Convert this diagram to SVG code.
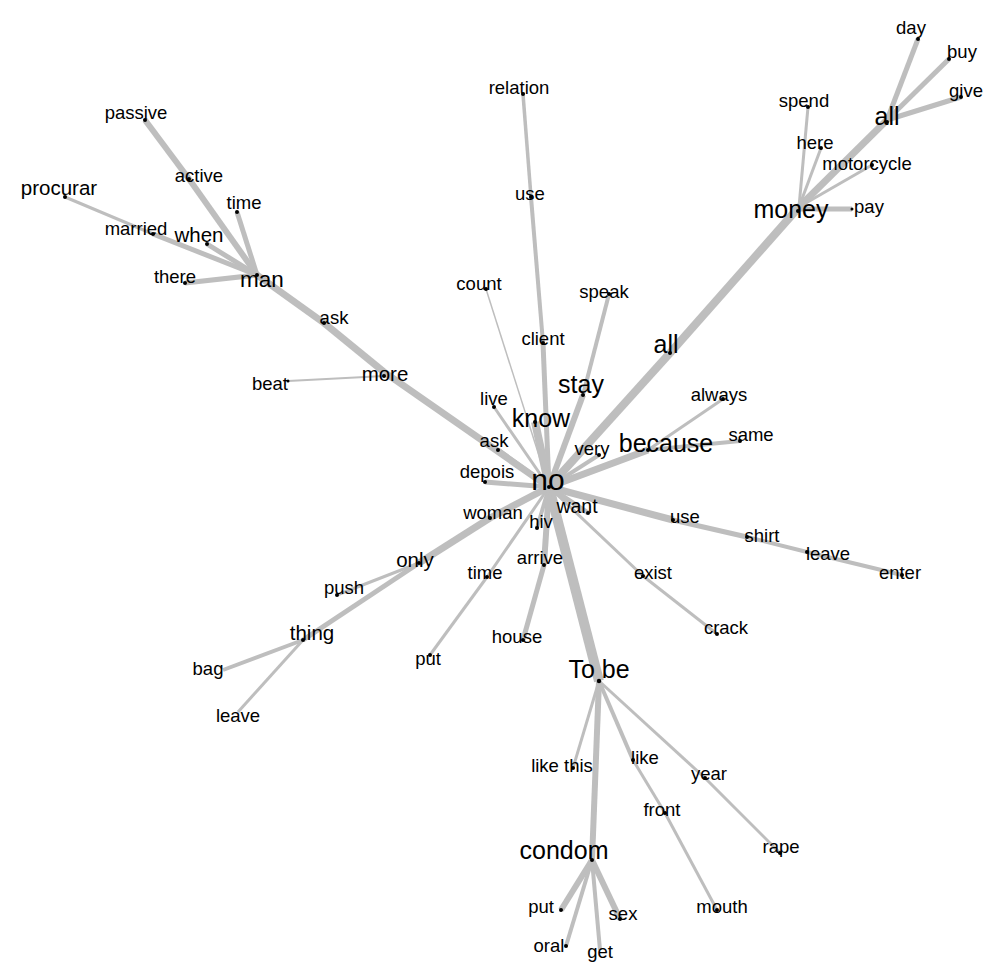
<svg xmlns="http://www.w3.org/2000/svg" width="1000" height="980" viewBox="0 0 1000 980">
<style>
text{font-family:"Liberation Sans",Arial,sans-serif;fill:#000;text-anchor:middle}
.s{font-size:18.5px}.m{font-size:20.5px}.mm{font-size:22.5px}.l{font-size:25px}.xl{font-size:30px}
#edges line{stroke:#bebebe;stroke-linecap:butt}
circle{fill:#000}
</style>
<rect width="1000" height="980" fill="#fff"/>
<g id="edges">
<line x1="145" y1="120" x2="189" y2="179" stroke-width="6"/>
<line x1="189" y1="179" x2="257" y2="275" stroke-width="6"/>
<line x1="237" y1="212" x2="257" y2="275" stroke-width="5"/>
<line x1="207" y1="244" x2="257" y2="275" stroke-width="5"/>
<line x1="65" y1="197" x2="153" y2="234" stroke-width="3"/>
<line x1="153" y1="234" x2="257" y2="275" stroke-width="5"/>
<line x1="185" y1="283" x2="257" y2="275" stroke-width="5"/>
<line x1="257" y1="275" x2="324" y2="323" stroke-width="7"/>
<line x1="324" y1="323" x2="384" y2="372" stroke-width="7"/>
<line x1="384" y1="372" x2="549" y2="487" stroke-width="7"/>
<line x1="288" y1="381" x2="384" y2="376" stroke-width="2"/>
<line x1="549" y1="487" x2="670" y2="353" stroke-width="8"/>
<line x1="670" y1="353" x2="799" y2="207" stroke-width="8"/>
<line x1="799" y1="207" x2="887" y2="120" stroke-width="7"/>
<line x1="887" y1="120" x2="918" y2="39" stroke-width="5"/>
<line x1="887" y1="120" x2="949" y2="59" stroke-width="5"/>
<line x1="887" y1="120" x2="961" y2="97" stroke-width="5"/>
<line x1="799" y1="207" x2="808" y2="107" stroke-width="3"/>
<line x1="799" y1="207" x2="821" y2="148" stroke-width="3"/>
<line x1="799" y1="207" x2="872" y2="165" stroke-width="3"/>
<line x1="799" y1="209" x2="852" y2="209" stroke-width="5"/>
<line x1="523" y1="94" x2="531" y2="197" stroke-width="3.5"/>
<line x1="531" y1="197" x2="543" y2="343" stroke-width="4"/>
<line x1="543" y1="343" x2="549" y2="487" stroke-width="5"/>
<line x1="486" y1="289" x2="549" y2="487" stroke-width="1.5"/>
<line x1="609" y1="294" x2="583" y2="395" stroke-width="4"/>
<line x1="583" y1="395" x2="549" y2="487" stroke-width="6"/>
<line x1="494" y1="407" x2="549" y2="487" stroke-width="3"/>
<line x1="535" y1="422" x2="549" y2="487" stroke-width="8"/>
<line x1="498" y1="450" x2="549" y2="487" stroke-width="5"/>
<line x1="485" y1="482" x2="549" y2="487" stroke-width="5"/>
<line x1="599" y1="455" x2="549" y2="487" stroke-width="4"/>
<line x1="648" y1="450" x2="549" y2="487" stroke-width="7"/>
<line x1="648" y1="450" x2="723" y2="399" stroke-width="3"/>
<line x1="648" y1="450" x2="740" y2="441" stroke-width="4"/>
<line x1="549" y1="487" x2="673" y2="520" stroke-width="7"/>
<line x1="673" y1="520" x2="747" y2="537" stroke-width="5"/>
<line x1="747" y1="537" x2="807" y2="552" stroke-width="4"/>
<line x1="807" y1="552" x2="902" y2="575" stroke-width="4"/>
<line x1="588" y1="513" x2="549" y2="487" stroke-width="5"/>
<line x1="643" y1="576" x2="549" y2="487" stroke-width="3"/>
<line x1="643" y1="576" x2="717" y2="634" stroke-width="3"/>
<line x1="549" y1="487" x2="599" y2="681" stroke-width="10"/>
<line x1="544" y1="565" x2="549" y2="487" stroke-width="6"/>
<line x1="523" y1="640" x2="544" y2="565" stroke-width="5"/>
<line x1="537" y1="528" x2="549" y2="487" stroke-width="4"/>
<line x1="487" y1="577" x2="549" y2="487" stroke-width="3"/>
<line x1="430" y1="655" x2="487" y2="577" stroke-width="3"/>
<line x1="490" y1="518" x2="549" y2="487" stroke-width="7"/>
<line x1="490" y1="518" x2="419" y2="563" stroke-width="7"/>
<line x1="419" y1="563" x2="303" y2="640" stroke-width="5"/>
<line x1="419" y1="563" x2="337" y2="595" stroke-width="3"/>
<line x1="303" y1="640" x2="223" y2="670" stroke-width="4"/>
<line x1="303" y1="640" x2="238" y2="712" stroke-width="3"/>
<line x1="599" y1="681" x2="592" y2="860" stroke-width="6"/>
<line x1="599" y1="681" x2="573" y2="768" stroke-width="3"/>
<line x1="599" y1="681" x2="633" y2="760" stroke-width="4"/>
<line x1="633" y1="760" x2="665" y2="813" stroke-width="3"/>
<line x1="665" y1="813" x2="717" y2="910" stroke-width="3"/>
<line x1="599" y1="681" x2="705" y2="778" stroke-width="3"/>
<line x1="705" y1="778" x2="780" y2="853" stroke-width="3"/>
<line x1="592" y1="860" x2="561" y2="910" stroke-width="6"/>
<line x1="592" y1="860" x2="566" y2="946" stroke-width="4"/>
<line x1="592" y1="860" x2="600" y2="950" stroke-width="4"/>
<line x1="592" y1="860" x2="620" y2="919" stroke-width="6"/>
</g>
<g id="n-passive"><circle cx="145" cy="120" r="2"/><text class="s" x="136" y="119">passive</text></g>
<g id="n-active"><circle cx="189" cy="179" r="2"/><text class="s" x="199" y="182">active</text></g>
<g id="n-procurar"><circle cx="65" cy="197" r="2"/><text class="m" x="59" y="195">procurar</text></g>
<g id="n-time1"><circle cx="237" cy="212" r="2"/><text class="s" x="244" y="209">time</text></g>
<g id="n-married"><circle cx="153" cy="234" r="2"/><text class="s" x="136" y="235">married</text></g>
<g id="n-when"><circle cx="207" cy="244" r="2"/><text class="m" x="199" y="242">when</text></g>
<g id="n-there"><circle cx="185" cy="283" r="2"/><text class="s" x="175" y="283">there</text></g>
<g id="n-man"><circle cx="257" cy="275" r="2"/><text class="mm" x="262" y="287">man</text></g>
<g id="n-ask1"><circle cx="324" cy="323" r="2"/><text class="s" x="334" y="324">ask</text></g>
<g id="n-more"><circle cx="384" cy="376" r="2"/><text class="m" x="385" y="381">more</text></g>
<g id="n-beat"><circle cx="288" cy="381" r="1.5"/><text class="s" x="270" y="390">beat</text></g>
<g id="n-day"><circle cx="918" cy="39" r="2"/><text class="s" x="911" y="34">day</text></g>
<g id="n-buy"><circle cx="949" cy="59" r="2"/><text class="s" x="962" y="58">buy</text></g>
<g id="n-give"><circle cx="961" cy="97" r="2"/><text class="s" x="966" y="97">give</text></g>
<g id="n-spend"><circle cx="808" cy="107" r="2"/><text class="s" x="804" y="107">spend</text></g>
<g id="n-all-top"><circle cx="887" cy="122" r="2"/><text class="l" x="887" y="125">all</text></g>
<g id="n-here"><circle cx="821" cy="148" r="2"/><text class="s" x="815" y="149">here</text></g>
<g id="n-motorcycle"><circle cx="872" cy="165" r="2"/><text class="s" x="867" y="170">motorcycle</text></g>
<g id="n-money"><circle cx="798" cy="211" r="2"/><text class="l" x="791" y="218">money</text></g>
<g id="n-pay"><circle cx="852" cy="209" r="1.5"/><text class="s" x="869" y="213">pay</text></g>
<g id="n-relation"><circle cx="523" cy="94" r="2"/><text class="s" x="519" y="94">relation</text></g>
<g id="n-use1"><circle cx="531" cy="197" r="2"/><text class="s" x="530" y="200">use</text></g>
<g id="n-count"><circle cx="486" cy="289" r="2"/><text class="s" x="479" y="290">count</text></g>
<g id="n-speak"><circle cx="609" cy="294" r="2"/><text class="s" x="604" y="298">speak</text></g>
<g id="n-client"><circle cx="543" cy="343" r="2"/><text class="s" x="543" y="345">client</text></g>
<g id="n-all-mid"><circle cx="670" cy="353" r="2"/><text class="l" x="666" y="353">all</text></g>
<g id="n-stay"><circle cx="583" cy="395" r="2"/><text class="l" x="581" y="393">stay</text></g>
<g id="n-live"><circle cx="494" cy="407" r="2"/><text class="s" x="494" y="405">live</text></g>
<g id="n-know"><circle cx="535" cy="422" r="2"/><text class="l" x="541" y="427">know</text></g>
<g id="n-always"><circle cx="723" cy="399" r="2"/><text class="s" x="719" y="401">always</text></g>
<g id="n-same"><circle cx="740" cy="441" r="2"/><text class="s" x="751" y="441">same</text></g>
<g id="n-because"><circle cx="648" cy="450" r="2"/><text class="l" x="666" y="452">because</text></g>
<g id="n-ask2"><circle cx="498" cy="450" r="2"/><text class="s" x="494" y="447">ask</text></g>
<g id="n-very"><circle cx="599" cy="455" r="2"/><text class="s" x="592" y="455">very</text></g>
<g id="n-depois"><circle cx="485" cy="482" r="2"/><text class="s" x="487" y="478">depois</text></g>
<g id="n-no"><circle cx="549" cy="487" r="2"/><text class="xl" x="548" y="490">no</text></g>
<g id="n-woman"><circle cx="490" cy="518" r="2"/><text class="s" x="493" y="519">woman</text></g>
<g id="n-hiv"><circle cx="537" cy="528" r="2"/><text class="s" x="541" y="528">hiv</text></g>
<g id="n-want"><circle cx="588" cy="513" r="2"/><text class="s" x="577" y="513" style="font-size:19.5px">want</text></g>
<g id="n-use2"><circle cx="673" cy="520" r="2"/><text class="s" x="685" y="523">use</text></g>
<g id="n-arrive"><circle cx="544" cy="565" r="2"/><text class="s" x="540" y="564">arrive</text></g>
<g id="n-time2"><circle cx="487" cy="577" r="2"/><text class="s" x="485" y="579">time</text></g>
<g id="n-exist"><circle cx="643" cy="576" r="2"/><text class="s" x="653" y="579">exist</text></g>
<g id="n-house"><circle cx="523" cy="640" r="2"/><text class="s" x="517" y="643">house</text></g>
<g id="n-crack"><circle cx="717" cy="634" r="2"/><text class="s" x="726" y="634">crack</text></g>
<g id="n-shirt"><circle cx="747" cy="537" r="2"/><text class="s" x="762" y="542">shirt</text></g>
<g id="n-leave1"><circle cx="807" cy="552" r="2"/><text class="s" x="828" y="560">leave</text></g>
<g id="n-enter"><circle cx="902" cy="575" r="2"/><text class="s" x="900" y="579">enter</text></g>
<g id="n-only"><circle cx="419" cy="563" r="2"/><text class="m" x="415" y="567">only</text></g>
<g id="n-push"><circle cx="337" cy="595" r="2"/><text class="s" x="344" y="594">push</text></g>
<g id="n-thing"><circle cx="303" cy="640" r="2"/><text class="m" x="312" y="640">thing</text></g>
<g id="n-bag"><text class="s" x="208" y="675">bag</text></g>
<g id="n-leave2"><text class="s" x="238" y="722">leave</text></g>
<g id="n-put1"><circle cx="430" cy="655" r="2"/><text class="s" x="428" y="665">put</text></g>
<g id="n-tobe"><circle cx="599" cy="681" r="2.2"/><text class="l" x="599" y="678">To be</text></g>
<g id="n-likethis"><circle cx="573" cy="768" r="2"/><text class="s" x="562" y="772">like this</text></g>
<g id="n-like"><circle cx="633" cy="760" r="2"/><text class="s" x="645" y="764">like</text></g>
<g id="n-year"><circle cx="705" cy="778" r="2"/><text class="s" x="709" y="780">year</text></g>
<g id="n-front"><circle cx="665" cy="813" r="2"/><text class="s" x="662" y="816">front</text></g>
<g id="n-rape"><circle cx="780" cy="853" r="2"/><text class="s" x="781" y="853">rape</text></g>
<g id="n-condom"><circle cx="592" cy="860" r="2"/><text class="l" x="564" y="859">condom</text></g>
<g id="n-put2"><circle cx="561" cy="910" r="2"/><text class="s" x="541" y="913">put</text></g>
<g id="n-sex"><circle cx="620" cy="919" r="2"/><text class="s" x="623" y="920">sex</text></g>
<g id="n-mouth"><circle cx="717" cy="910" r="2"/><text class="s" x="722" y="913">mouth</text></g>
<g id="n-oral"><circle cx="566" cy="946" r="2"/><text class="s" x="549" y="952">oral</text></g>
<g id="n-get"><text class="s" x="600" y="958">get</text></g>
</svg>
